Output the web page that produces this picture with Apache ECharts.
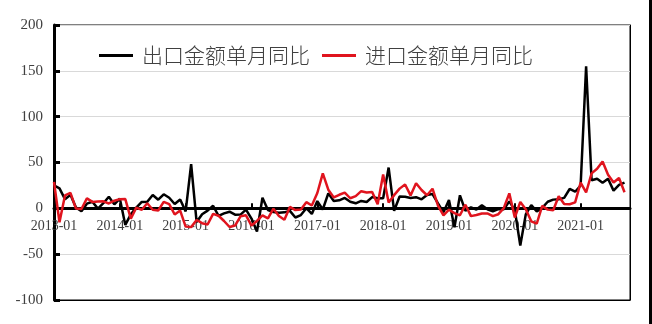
<!DOCTYPE html>
<html>
<head>
<meta charset="utf-8">
<script src="https://cdn.jsdelivr.net/npm/echarts@6/dist/echarts.min.js"></script>
<style>
html,body{margin:0;padding:0;background:#fff;}
#c{width:652px;height:324px;}
</style>
</head>
<body>
<div id="c"></div>
<script>
const months = [
'2013-01','2013-02','2013-03','2013-04','2013-05','2013-06','2013-07','2013-08','2013-09','2013-10','2013-11','2013-12',
'2014-01','2014-02','2014-03','2014-04','2014-05','2014-06','2014-07','2014-08','2014-09','2014-10','2014-11','2014-12',
'2015-01','2015-02','2015-03','2015-04','2015-05','2015-06','2015-07','2015-08','2015-09','2015-10','2015-11','2015-12',
'2016-01','2016-02','2016-03','2016-04','2016-05','2016-06','2016-07','2016-08','2016-09','2016-10','2016-11','2016-12',
'2017-01','2017-02','2017-03','2017-04','2017-05','2017-06','2017-07','2017-08','2017-09','2017-10','2017-11','2017-12',
'2018-01','2018-02','2018-03','2018-04','2018-05','2018-06','2018-07','2018-08','2018-09','2018-10','2018-11','2018-12',
'2019-01','2019-02','2019-03','2019-04','2019-05','2019-06','2019-07','2019-08','2019-09','2019-10','2019-11','2019-12',
'2020-01','2020-02','2020-03','2020-04','2020-05','2020-06','2020-07','2020-08','2020-09','2020-10','2020-11','2020-12',
'2021-01','2021-02','2021-03','2021-04','2021-05','2021-06','2021-07','2021-08','2021-09','2021-10'
];

const exportName = '出口金额单月同比';
const importName = '进口金额单月同比';

const exportYoY = [
25.0, 21.8, 10.0, 14.7, 1.0, -3.1, 5.1, 7.2, -0.3, 5.6, 12.7, 4.3,
10.6, -18.1, -6.6, 0.9, 7.0, 7.2, 14.5, 9.4, 15.3, 11.6, 4.7, 9.7,
-3.3, 48.3, -15.0, -6.4, -2.5, 2.8, -8.3, -5.5, -3.7, -6.9, -6.8, -1.4,
-11.2, -25.4, 11.5, -1.8, -4.1, -4.8, -4.4, -2.8, -10.0, -7.3, 0.1, -6.1,
7.9, -1.3, 16.4, 8.0, 8.7, 11.3, 7.2, 5.5, 8.1, 6.9, 12.3, 10.9,
11.1, 44.5, -2.7, 12.9, 12.6, 11.3, 12.2, 9.8, 14.5, 15.6, 5.4, -4.4,
9.1, -20.7, 14.2, -2.7, 1.1, -1.3, 3.3, -1.0, -3.2, -0.9, -1.1, 7.6,
-2.0, -40.6, -6.6, 3.5, -3.3, 0.5, 7.2, 9.5, 9.9, 11.4, 21.1, 18.1,
24.9, 154.9, 30.6, 32.3, 27.9, 32.2, 19.3, 25.6, 28.1
];

const importYoY = [
28.8, -15.2, 14.1, 16.8, -0.3, -0.7, 10.9, 7.0, 7.4, 7.6, 5.3, 8.3,
10.0, 10.1, -11.3, 0.8, -1.6, 5.5, -1.6, -2.4, 7.0, 4.6, -6.7, -2.4,
-19.9, -20.5, -12.7, -16.2, -17.6, -6.1, -8.1, -13.8, -20.4, -18.8, -8.7, -7.6,
-18.8, -13.8, -7.6, -10.9, -0.4, -8.4, -12.5, 1.5, -1.9, -1.4, 6.7, 3.1,
16.7, 38.1, 20.3, 11.9, 14.8, 17.2, 11.0, 13.3, 18.7, 17.2, 17.7, 4.5,
36.9, 6.3, 14.4, 21.5, 26.0, 14.1, 27.3, 20.0, 14.3, 21.4, 3.0, -7.6,
-1.5, -5.2, -7.6, 4.0, -8.5, -7.3, -5.6, -5.6, -8.5, -6.4, 0.3, 16.3,
-10.0, 7.0, -0.9, -14.2, -16.7, 2.7, -1.4, -2.1, 13.2, 4.7, 4.5, 6.5,
28.0, 17.3, 38.1, 43.1, 51.1, 36.7, 28.1, 33.1, 17.6
];

const yMin = -100, yMax = 200, yStep = 50;

const gridTop = 25, gridBottom = 24, chartH = 324;
const plotH = chartH - gridTop - gridBottom;
// distance (px) from the top edge of the plot down to the value-0 line
const zeroFromTop = plotH * (yMax - 0) / (yMax - yMin);

const chart = echarts.init(document.getElementById('c'), null, {renderer: 'canvas'});
const labelFont = 'Liberation Serif';
chart.setOption({
  animation: false,
  backgroundColor: '#ffffff',
  grid: {left: 54, right: 22, top: gridTop, bottom: gridBottom, show: true, borderColor: '#000', borderWidth: 1, backgroundColor: '#fff'},
  legend: {
    left: 94, top: 40,
    icon: 'rect', itemWidth: 34, itemHeight: 3, itemGap: 12,
    textStyle: {fontFamily: 'Noto Sans CJK SC', fontSize: 21, fontWeight: 300, color: '#404040', padding: [0, 0, 0, 4]},
    data: [exportName, importName]
  },
  xAxis: [
    {
      // category axis drawn along the value-0 line
      type: 'category', boundaryGap: false, data: months, position: 'top',
      offset: -zeroFromTop, z: 1,
      axisLine: {onZero: false, lineStyle: {color: '#000', width: 3}},
      axisTick: {show: true, inside: false, length: 5, interval: 11, lineStyle: {color: '#000', width: 2}},
      axisLabel: {inside: true, interval: 11, fontFamily: labelFont, fontSize: 14, color: '#404040', margin: 11},
      splitLine: {show: false}
    },
    {
      // bottom frame of the plot area
      type: 'category', boundaryGap: false, data: months, position: 'bottom', offset: 0, z: 1,
      axisLine: {show: true, onZero: false, lineStyle: {color: '#000', width: 1}},
      axisTick: {show: false}, axisLabel: {show: false}, splitLine: {show: false}
    }
  ],
  yAxis: [
    {
      type: 'value', min: yMin, max: yMax, interval: yStep,
      axisLine: {show: true, onZero: false, lineStyle: {color: '#000', width: 3}},
      axisTick: {show: true, inside: true, length: 6, lineStyle: {color: '#000', width: 3}},
      axisLabel: {fontFamily: labelFont, fontSize: 15, color: '#404040', margin: 11},
      splitLine: {show: true, lineStyle: {color: '#d9d9d9', width: 1}}
    },
    {
      type: 'value', min: yMin, max: yMax, interval: yStep, position: 'right', z: 1,
      axisLine: {show: true, onZero: false, lineStyle: {color: '#000', width: 1}},
      axisTick: {show: false}, axisLabel: {show: false}, splitLine: {show: false}
    }
  ],
  series: [
    {name: exportName, type: 'line', data: exportYoY, showSymbol: false, symbol: 'none',
     lineStyle: {color: '#000', width: 2.5}, itemStyle: {color: '#000'}},
    {name: importName, type: 'line', data: importYoY, showSymbol: false, symbol: 'none',
     lineStyle: {color: '#e0141e', width: 2.5}, itemStyle: {color: '#e0141e'}}
  ],
  graphic: [
    {type: 'rect', left: 649, top: 0, shape: {width: 3, height: 324}, style: {fill: '#000'}, silent: true}
  ]
});
</script>
</body>
</html>
